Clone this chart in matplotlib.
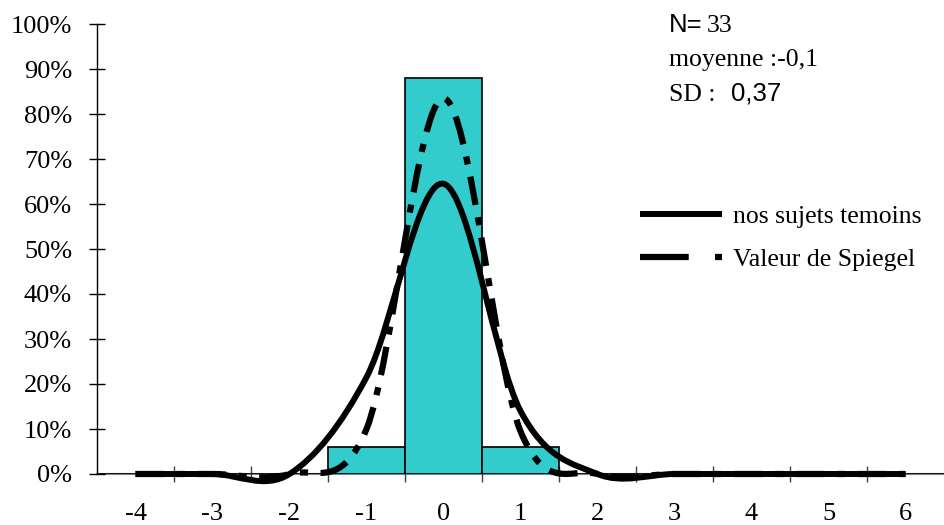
import matplotlib
matplotlib.use("Agg")
import matplotlib.pyplot as plt
from matplotlib.lines import Line2D
from matplotlib.patches import PathPatch
from matplotlib.path import Path

# valeurs (en %)
categories = [-4, -3, -2, -1, 0, 1, 2, 3, 4, 5, 6]
histogramme = [0, 0, 0, 6.06, 87.9, 6.06, 0, 0, 0, 0, 0]
nos_sujets = [0, 0, 0, 21.5, 64.5, 14, 0, 0, 0, 0, 0]
spiegel = [0, 0, 0, 10, 83.5, 9.5, 0, 0, 0, 0, 0]
y_ticks = [0, 10, 20, 30, 40, 50, 60, 70, 80, 90, 100]

SERIF = "Liberation Serif"
SANS = "Liberation Sans"
TURQUOISE = "#33CCCC"


def courbe_lissee(xs, ys):
    """Ligne lissee facon Excel (segments de Bezier)."""
    n = len(xs)
    verts = [(xs[0], ys[0])]
    codes = [Path.MOVETO]
    for i in range(n - 1):
        x0, y0 = xs[max(i - 1, 0)], ys[max(i - 1, 0)]
        x1, y1 = xs[i], ys[i]
        x2, y2 = xs[i + 1], ys[i + 1]
        x3, y3 = xs[min(i + 2, n - 1)], ys[min(i + 2, n - 1)]
        c1 = (x1 + (x2 - x0) / 6, y1 + (y2 - y0) / 6)
        c2 = (x2 - (x3 - x1) / 6, y2 - (y3 - y1) / 6)
        verts += [c1, c2, (x2, y2)]
        codes += [Path.CURVE4] * 3
    return Path(verts, codes)


plt.rcParams["font.family"] = [SERIF, "DejaVu Sans"]

fig = plt.figure(figsize=(9.45, 5.25), dpi=100)
ax = fig.add_axes([97 / 945, 51 / 525, 847 / 945, 450 / 525])

pos = list(range(len(categories)))
ax.bar(pos, histogramme, width=1.0, color=TURQUOISE, edgecolor="black",
       linewidth=1.2, zorder=2)

dash_spiegel = (0, (4.6, 2.0, 1.3, 2.0))
ax.add_patch(PathPatch(courbe_lissee(pos, spiegel), fill=False, edgecolor="black",
                       linewidth=4.5, linestyle=dash_spiegel, capstyle="butt",
                       clip_on=False, zorder=3))
ax.add_patch(PathPatch(courbe_lissee(pos, nos_sujets), fill=False, edgecolor="black",
                       linewidth=4.3, capstyle="butt", clip_on=False, zorder=4))

ax.set_xlim(-0.5, len(categories) - 0.5)
ax.set_ylim(0, 100)

ax.set_xticks(pos)
ax.set_xticklabels([str(c) for c in categories])
ax.set_xticks([p - 0.5 for p in pos[1:]], minor=True)
ax.tick_params(axis="x", which="major", length=0, pad=21, labelsize=19)
ax.tick_params(axis="x", which="minor", direction="inout", length=11,
               width=1, color="#404040")

ax.set_yticks(y_ticks)
ax.set_yticklabels([f"{v}%" for v in y_ticks])
ax.tick_params(axis="y", direction="inout", length=12, width=1, pad=12,
               labelsize=19)

ax.spines["top"].set_visible(False)
ax.spines["right"].set_visible(False)
ax.spines["left"].set_linewidth(1)
ax.spines["bottom"].set_color("#808080")
ax.spines["bottom"].set_linewidth(1.5)
ax.spines["bottom"].set_zorder(1)

# legende
handles = [
    Line2D([], [], color="black", linewidth=4.3, solid_capstyle="butt"),
    Line2D([], [], color="black", linewidth=4.5, dash_capstyle="butt",
           linestyle=(0, (7.8, 4.2, 1.8, 4.2))),
]
ax.legend(handles, ["nos sujets temoins", "Valeur de Spiegel"],
          loc="upper left", bbox_to_anchor=(640 / 945, 1 - 205 / 525),
          bbox_transform=fig.transFigure, frameon=False, fontsize=18.5,
          handlelength=3.2, handletextpad=0.43, labelspacing=0.77,
          borderpad=0, borderaxespad=0)

# statistiques
fs = 18.5
fig.text(669 / 945, 1 - 32 / 525, "N=", family=SANS, fontsize=fs, va="baseline")
fig.text(707 / 945, 1 - 32 / 525, "33", family=SERIF, fontsize=fs, va="baseline")
fig.text(669 / 945, 1 - 66 / 525, "moyenne :-0,1", family=SERIF, fontsize=fs,
         va="baseline")
fig.text(669 / 945, 1 - 101 / 525, "SD :", family=SERIF, fontsize=fs, va="baseline")
fig.text(731 / 945, 1 - 101 / 525, "0,37", family=SANS, fontsize=fs, va="baseline")

fig.savefig("out.png", dpi=100)
